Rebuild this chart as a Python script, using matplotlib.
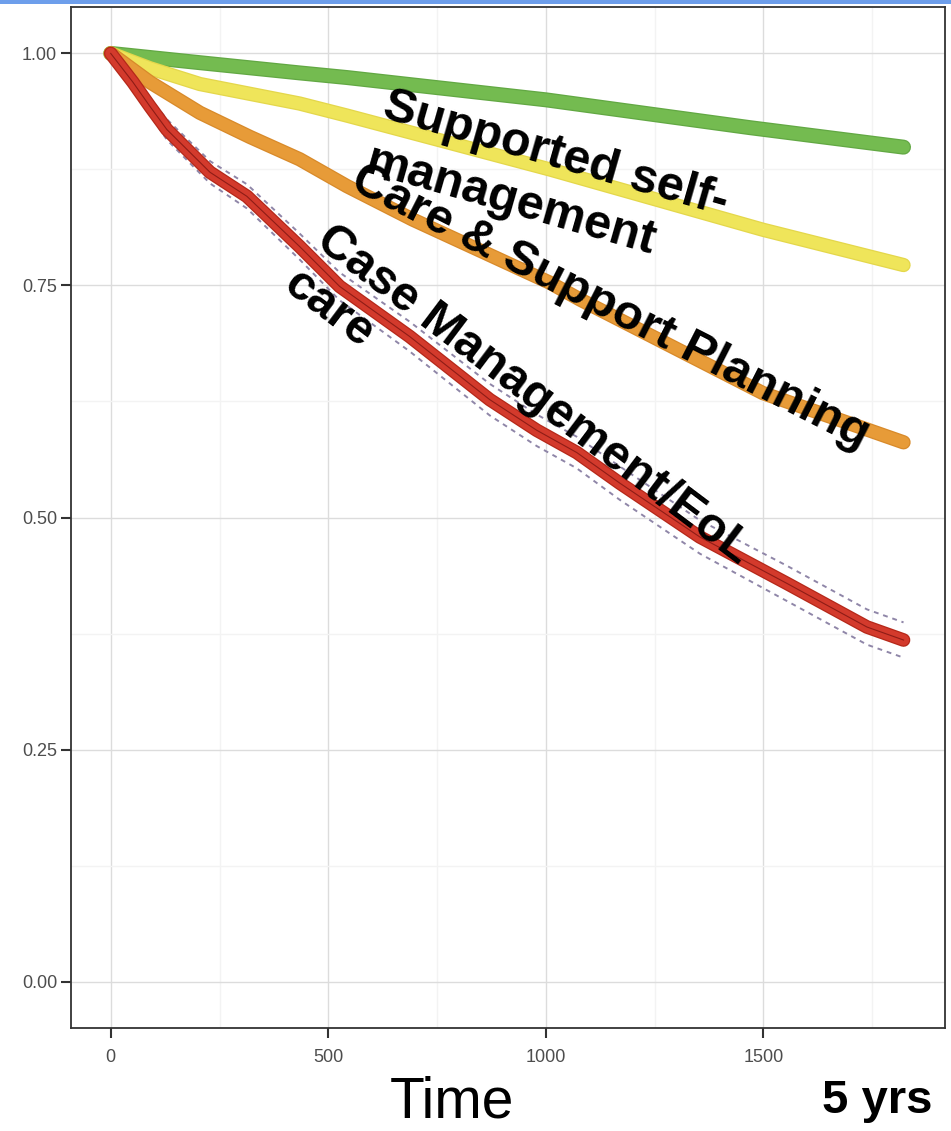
import matplotlib.pyplot as plt
import matplotlib.patheffects as pe
from matplotlib.patches import Rectangle

# survival curves (time in days)
green_t = [0, 205, 434, 543, 1000, 1469, 1822]
green_s = [1.0, 0.990, 0.979, 0.974, 0.950, 0.920, 0.899]

yellow_t = [0, 90, 205, 434, 543, 1009, 1499, 1822]
yellow_s = [1.0, 0.984, 0.967, 0.946, 0.933, 0.875, 0.810, 0.772]

orange_t = [0, 90, 205, 320, 434, 543, 694, 1009, 1078, 1499, 1822]
orange_s = [1.0, 0.969, 0.936, 0.910, 0.886, 0.857, 0.821, 0.753, 0.735, 0.634, 0.581]

red_t = [0, 51, 90, 129, 228, 313, 434, 526, 687, 871, 979, 1071, 1170, 1354, 1554, 1738, 1822]
red_s = [1.0, 0.969, 0.943, 0.918, 0.872, 0.846, 0.792, 0.749, 0.695, 0.627, 0.594, 0.570, 0.537, 0.479, 0.429, 0.382, 0.368]
red_up = [1.0, 0.976, 0.952, 0.929, 0.884, 0.859, 0.806, 0.764, 0.711, 0.644, 0.611, 0.587, 0.555, 0.497, 0.448, 0.401, 0.387]
red_lo = [1.0, 0.962, 0.934, 0.907, 0.860, 0.833, 0.778, 0.734, 0.679, 0.610, 0.577, 0.553, 0.519, 0.461, 0.410, 0.363, 0.349]

x_ticks = [0, 500, 1000, 1500]
y_ticks = [0.0, 0.25, 0.5, 0.75, 1.0]

plt.rcParams['font.family'] = ['Liberation Sans', 'DejaVu Sans']

fig = plt.figure(figsize=(9.51, 11.31), dpi=100)
ax = fig.add_axes([71/951, 103/1131, 874/951, 1021/1131])


def km_curve(t, s, col, edge, lw=8):
    ax.plot(t, s, color=col, lw=lw, solid_capstyle='round', solid_joinstyle='round',
            path_effects=[pe.Stroke(linewidth=lw + 1.8, foreground=edge), pe.Normal()], zorder=3)


km_curve(green_t, green_s, '#74bb50', '#62a843', lw=9)
km_curve(yellow_t, yellow_s, '#efe55a', '#e4d74b', lw=8.5)
km_curve(orange_t, orange_s, '#e79b38', '#d88a2a', lw=8.5)
ax.plot(red_t, red_up, color='#8f86a8', ls=(0, (2.5, 2.5)), lw=1.4, zorder=2)
ax.plot(red_t, red_lo, color='#8f86a8', ls=(0, (2.5, 2.5)), lw=1.4, zorder=2)
km_curve(red_t, red_s, '#d33a2c', '#b52819', lw=8)
ax.plot(red_t, red_s, color='#8e1c16', lw=0.8, zorder=5)

ax.set_xlim(-91.3, 1917.3)
ax.set_ylim(-0.05, 1.05)
ax.set_xticks(x_ticks)
ax.set_yticks(y_ticks)
ax.set_yticklabels([f'{v:.2f}' for v in y_ticks])
ax.set_xticks([250, 750, 1250, 1750], minor=True)
ax.set_yticks([0.125, 0.375, 0.625, 0.875], minor=True)
ax.grid(True, which='major', color='#dcdcdc', lw=1)
ax.grid(True, which='minor', color='#f3f3f3', lw=1)
ax.set_axisbelow(True)
ax.tick_params(which='minor', length=0)
ax.tick_params(which='major', length=7, width=1.5, color='#333333', labelsize=13,
               labelcolor='#4d4d4d')
ax.tick_params(axis='x', pad=8)
ax.tick_params(axis='y', pad=3)
for sp in ax.spines.values():
    sp.set_color('#333333')
    sp.set_linewidth(1.3)

# rotated curve labels, one text per line
lab = dict(fontsize=35, fontweight='bold', color='black', rotation_mode='anchor',
           ha='left', va='baseline', zorder=6)
ax.text(620, 0.931, 'Supported self-', rotation=-16, **lab)
ax.text(581, 0.872, 'management', rotation=-16, **lab)
ax.text(547, 0.855, 'Care & Support Planning', rotation=-27, **lab)
ax.text(468, 0.794, 'Case Management/EoL', rotation=-37, **lab)
ax.text(392, 0.746, 'care', rotation=-37, **lab)

fig.text(452/951, 1 - 1129/1131, 'Time', fontsize=41, ha='center', va='bottom')
fig.text(932/951, 1 - 1113/1131, '5 yrs', fontsize=34, fontweight='bold', ha='right', va='baseline')

fig.add_artist(Rectangle((0, 1 - 4/1131), 1, 4/1131, transform=fig.transFigure,
                         color='#6d9eeb', lw=0))

fig.savefig('out.png', dpi=100)
